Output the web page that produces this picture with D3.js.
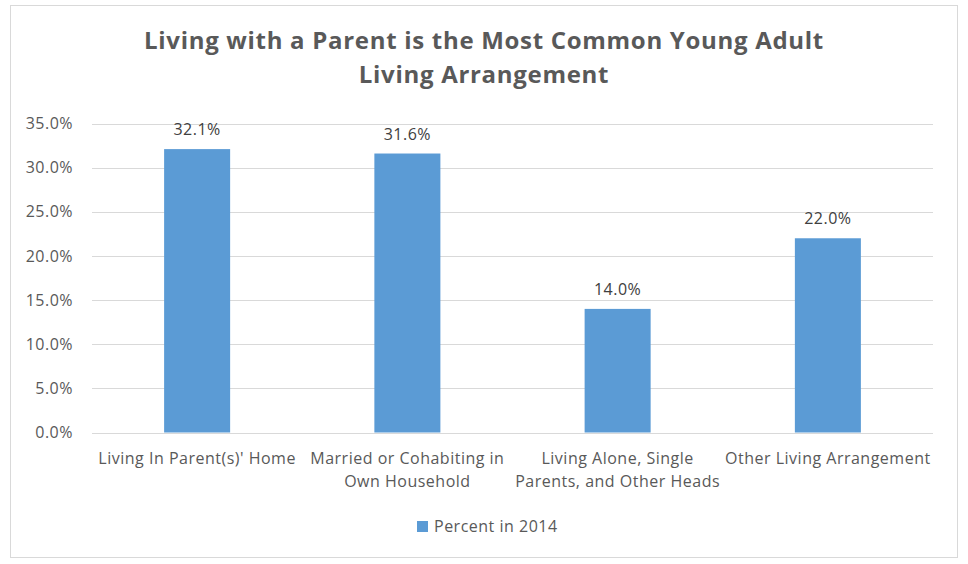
<!DOCTYPE html>
<html><head><meta charset="utf-8">
<script src="https://cdn.jsdelivr.net/npm/d3@7"></script>
<style>body{margin:0;background:#fff;} svg{display:block;font-family:"Open Sans", sans-serif;}</style>
</head><body>
<script>
const categories = ["Living In Parent(s)' Home", "Married or Cohabiting in\nOwn Household", "Living Alone, Single\nParents, and Other Heads", "Other Living Arrangement"];
const values = [32.1, 31.6, 14.0, 22.0];
const yTicks = [0, 5, 10, 15, 20, 25, 30, 35];
const seriesName = "Percent in 2014";
const titleLines = ["Living with a Parent is the Most Common Young Adult", "Living Arrangement"];

const W = 968, H = 564;
const svg = d3.select("body").append("svg").attr("width", W).attr("height", H);
svg.append("rect").attr("x", 10.5).attr("y", 5.5).attr("width", 947).attr("height", 552)
  .attr("fill", "#fff").attr("stroke", "#D9D9D9");

const x = d3.scaleBand().domain(categories).range([92, 933]).paddingInner(0.686).paddingOuter(0.343);
const y = d3.scaleLinear().domain([0, 35]).range([432.5, 123.5]);

svg.selectAll("text.title").data(titleLines).join("text").attr("class", "title")
  .attr("x", 484).attr("y", (d, i) => 48.5 + i * 34.5).attr("text-anchor", "middle")
  .attr("font-size", 24).attr("letter-spacing", 0.7).attr("font-weight", "bold").attr("fill", "#595959").text(d => d);

const yAxis = d3.axisLeft(y).tickValues(yTicks).tickFormat(d => d.toFixed(1) + "%").tickSize(0).tickPadding(19);
const yg = svg.append("g").attr("transform", "translate(92,0)").call(yAxis);
yg.select(".domain").remove();
yg.selectAll("text").attr("font-size", 16).attr("letter-spacing", 0.5).attr("fill", "#595959")
  .attr("font-family", "'Open Sans', sans-serif");

svg.append("g").selectAll("line").data(yTicks).join("line")
  .attr("x1", 92).attr("x2", 933).attr("y1", d => Math.round(y(d)) + 0.5).attr("y2", d => Math.round(y(d)) + 0.5)
  .attr("stroke", "#D9D9D9").attr("stroke-width", 1);

svg.append("g").selectAll("rect").data(values).join("rect")
  .attr("x", (d, i) => x(categories[i])).attr("width", x.bandwidth())
  .attr("y", d => y(d)).attr("height", d => y(0) - y(d)).attr("fill", "#5B9BD5");

svg.append("g").selectAll("text").data(values).join("text")
  .attr("x", (d, i) => x(categories[i]) + x.bandwidth() / 2).attr("y", d => y(d) - 14)
  .attr("text-anchor", "middle").attr("font-size", 16).attr("letter-spacing", 0.5).attr("fill", "#404040")
  .text(d => d.toFixed(1) + "%");

const xg = svg.append("g");
categories.forEach((c, i) => {
  const t = xg.append("text").attr("x", x(c) + x.bandwidth() / 2).attr("y", 464)
    .attr("text-anchor", "middle").attr("font-size", 16).attr("letter-spacing", 0.5).attr("fill", "#595959");
  c.split("\n").forEach((line, j) => {
    t.append("tspan").attr("x", x(c) + x.bandwidth() / 2).attr("dy", j === 0 ? 0 : 23).text(line);
  });
});

const lg = svg.append("g");
lg.append("rect").attr("x", 417).attr("y", 521).attr("width", 11).attr("height", 11).attr("fill", "#5B9BD5");
lg.append("text").attr("x", 434).attr("y", 532).attr("font-size", 16).attr("letter-spacing", 0.5)
  .attr("fill", "#595959").text(seriesName);
</script>
</body></html>
